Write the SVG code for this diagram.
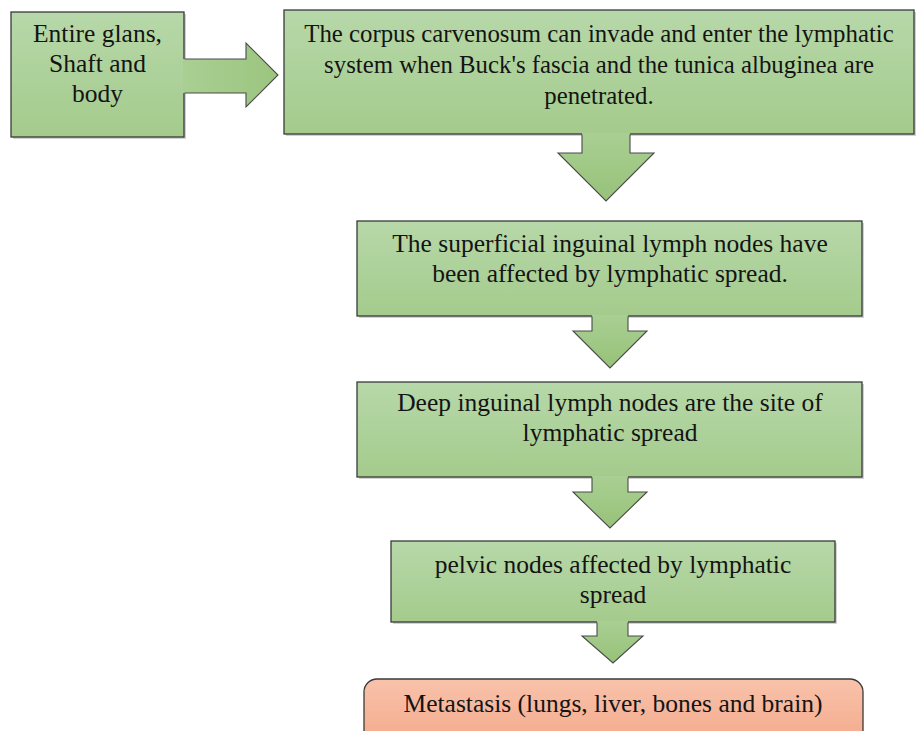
<svg xmlns="http://www.w3.org/2000/svg" width="916" height="731" viewBox="0 0 916 731">
<defs>
<linearGradient id="gBox" x1="0" y1="0" x2="0" y2="1">
<stop offset="0" stop-color="#b7d8a9"/>
<stop offset="1" stop-color="#a4cb8c"/>
</linearGradient>
<linearGradient id="gArr" x1="0" y1="0" x2="0" y2="1">
<stop offset="0" stop-color="#a9cf93"/>
<stop offset="1" stop-color="#97c279"/>
</linearGradient>
<linearGradient id="gArrH" x1="0" y1="0" x2="1" y2="0">
<stop offset="0" stop-color="#a9cf93"/>
<stop offset="1" stop-color="#9cc57f"/>
</linearGradient>
<linearGradient id="gRed" x1="0" y1="0" x2="0" y2="1">
<stop offset="0" stop-color="#f8c3ab"/>
<stop offset="1" stop-color="#f3a384"/>
</linearGradient>
</defs>
<style>
.box{fill:url(#gBox);stroke:#3a3a3a;stroke-width:1.3}
.shadow{fill:#9a9a9a;opacity:0.45}
.red{fill:url(#gRed);stroke:#3a3a3a;stroke-width:1.3}
.af{fill:url(#gArr);stroke:none}
.afh{fill:url(#gArrH);stroke:none}
.as{fill:none;stroke:#4a4a4a;stroke-width:1.1;stroke-linejoin:miter}
.t{font-family:"Liberation Serif","Times New Roman",serif;font-size:25.5px;fill:#141414;text-anchor:middle}
.t2{font-size:24.8px}
</style>
<g id="n1">
<rect class="shadow" x="13" y="14" width="173" height="125"/>
<rect class="box" x="11" y="12" width="173" height="125"/>
<text class="t" x="97.5" y="42">Entire glans,</text>
<text class="t" x="97.5" y="72">Shaft and</text>
<text class="t" x="97.5" y="102">body</text>
</g>
<g id="n2">
<rect class="shadow" x="286" y="12" width="630" height="124"/>
<rect class="box" x="284" y="10" width="630" height="124"/>
<text class="t t2" x="599" y="42">The corpus carvenosum can invade and enter the lymphatic</text>
<text class="t t2" x="599" y="73">system when Buck's fascia and the tunica albuginea are</text>
<text class="t t2" x="599" y="104">penetrated.</text>
</g>
<g id="n3">
<rect class="shadow" x="359" y="223" width="505" height="95"/>
<rect class="box" x="357" y="221" width="505" height="95"/>
<text class="t" x="610" y="252">The superficial inguinal lymph nodes have</text>
<text class="t" x="610" y="282">been affected by lymphatic spread.</text>
</g>
<g id="n4">
<rect class="shadow" x="359" y="384" width="505" height="95"/>
<rect class="box" x="357" y="382" width="505" height="95"/>
<text class="t" x="610" y="411">Deep inguinal lymph nodes are the site of</text>
<text class="t" x="610" y="441">lymphatic spread</text>
</g>
<g id="n5">
<rect class="shadow" x="393" y="543" width="444" height="81"/>
<rect class="box" x="391" y="541" width="444" height="81"/>
<text class="t" x="613" y="573">pelvic nodes affected by lymphatic</text>
<text class="t" x="613" y="603">spread</text>
</g>
<g id="n6">
<rect class="red" x="364" y="679" width="499" height="80" rx="13" ry="13"/>
<text class="t" x="613" y="712">Metastasis (lungs, liver, bones and brain)</text>
</g>
<g id="connectors">
<polygon class="afh" points="183,59 246,59 246,43 278,75 246,107 246,93 183,93"/>
<path class="as" d="M184.6,59 H246 V43 L278,75 L246,107 V93 H184.6"/>
<polygon class="af" points="582,133 630,133 630,153 654,153 606,201 558,153 582,153"/>
<path class="as" d="M582,134.6 V153 H558 L606,201 L654,153 H630 V134.6"/>
<polygon class="af" points="592,315 628,315 628,331 647,331 610,368 573,331 592,331"/>
<path class="as" d="M592,316.6 V331 H573 L610,368 L647,331 H628 V316.6"/>
<polygon class="af" points="592,476 628,476 628,492 647,492 610,528 573,492 592,492"/>
<path class="as" d="M592,477.6 V492 H573 L610,528 L647,492 H628 V477.6"/>
<polygon class="af" points="597,621 628,621 628,636 643,636 613,663 582,636 597,636"/>
<path class="as" d="M597,622.6 V636 H582 L613,663 L643,636 H628 V622.6"/>
</g>
</svg>
